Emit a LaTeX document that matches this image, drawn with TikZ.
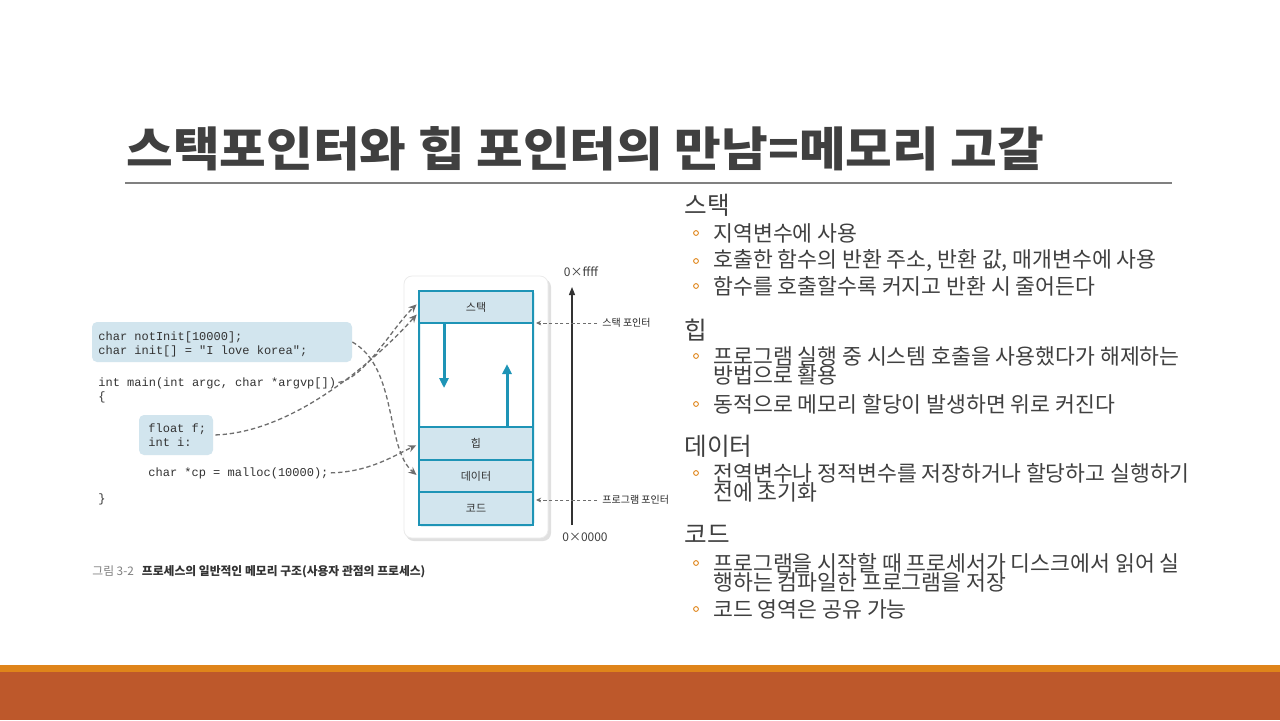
\documentclass[tikz,border=0pt]{standalone}
\usepackage{fontspec}
\setmainfont{Noto Sans CJK KR}
\newfontfamily\codefont{Liberation Mono}
\usetikzlibrary{arrows.meta}
\definecolor{txt}{RGB}{64,64,64}
\definecolor{memfill}{RGB}{210,229,238}
\definecolor{memline}{RGB}{30,148,182}
\definecolor{dashc}{RGB}{110,110,110}
\definecolor{bulletc}{RGB}{224,134,26}
\definecolor{bandA}{RGB}{223,132,26}
\definecolor{bandB}{RGB}{189,88,43}
\definecolor{rulec}{RGB}{128,128,128}
\begin{document}
\begin{tikzpicture}[x=0.5pt,y=-0.5pt,
  titlestyle/.style={anchor=west,inner sep=0,font=\fontsize{23.5}{27}\selectfont\bfseries,text=txt},
  headstyle/.style={anchor=west,inner sep=0,font=\fontsize{12.3}{14}\selectfont,text=txt},
  bodystyle/.style={anchor=west,inner sep=0,font=\fontsize{10.8}{12}\selectfont,text=txt},
  bulletdot/.style={circle,draw=bulletc,line width=0.45pt,minimum size=2.4pt,inner sep=0},
  codeline/.style={anchor=base west,inner sep=0,font=\codefont\fontsize{6}{7}\selectfont,text=black!80},
  codebox/.style={fill=memfill,rounded corners=2.5pt,inner sep=0},
  segbox/.style={draw=memline,fill=memfill,line width=1pt,minimum width=57pt,inner sep=0,font=\fontsize{5.5}{6}\selectfont,text=black!80},
  growarrow/.style={draw=memline,line width=1.5pt,-{Triangle[width=4.5pt,length=5pt]}},
  linkarrow/.style={draw=dashc,line width=0.65pt,dash pattern=on 2.2pt off 1.4pt,-{Stealth[length=4pt,width=3.6pt]}},
  ptrarrow/.style={draw=dashc,line width=0.45pt,dash pattern=on 1.6pt off 1.2pt,-{Stealth[length=2.6pt,width=2.4pt]}},
  smalllabel/.style={anchor=west,inner sep=0,font=\fontsize{5}{6}\selectfont,text=black!85},
  axislabel/.style={inner sep=0,font=\fontsize{6}{7}\selectfont,text=black!75}
]
\useasboundingbox (0,0) rectangle (1280,720);
\fill[white] (0,0) rectangle (1280,720);

% title
\node[titlestyle] (title) at (126,149) {\scalebox{1.08}[1]{스택포인터와 힙 포인터의 만남=메모리 고갈}};
\draw[rulec,line width=0.6pt] (125,183) -- (1172,183);

% bottom bands
\fill[bandA] (0,665) rectangle (1280,672);
\fill[bandB] (0,672) rectangle (1280,720);

% right column
\node[headstyle] (h1) at (684,205) {스택};
\node[bulletdot] (b11) at (696,233) {};
\node[bodystyle] (t11) at (713,233) {지역변수에 사용};
\node[bulletdot] (b12) at (696,261) {};
\node[bodystyle] (t12) at (713,261) {호출한 함수의 반환 주소, 반환 값, 매개변수에 사용};
\node[bulletdot] (b13) at (696,286) {};
\node[bodystyle] (t13) at (713,286) {함수를 호출할수록 커지고 반환 시 줄어든다};

\node[headstyle] (h2) at (684,330) {힙};
\node[bulletdot] (b21) at (696,356) {};
\node[bodystyle] (t21) at (713,356) {프로그램 실행 중 시스템 호출을 사용했다가 해제하는};
\node[bodystyle] (t21b) at (713,375) {방법으로 활용};
\node[bulletdot] (b22) at (696,404) {};
\node[bodystyle] (t22) at (713,404) {동적으로 메모리 할당이 발생하면 위로 커진다};

\node[headstyle] (h3) at (684,446) {데이터};
\node[bulletdot] (b31) at (696,473) {};
\node[bodystyle] (t31) at (713,473) {전역변수나 정적변수를 저장하거나 할당하고 실행하기};
\node[bodystyle] (t31b) at (713,492) {전에 초기화};

\node[headstyle] (h4) at (684,534) {코드};
\node[bulletdot] (b41) at (696,563) {};
\node[bodystyle] (t41) at (713,563) {프로그램을 시작할 때 프로세서가 디스크에서 읽어 실};
\node[bodystyle] (t41b) at (713,582) {행하는 컴파일한 프로그램을 저장};
\node[bulletdot] (b42) at (696,609) {};
\node[bodystyle] (t42) at (713,609) {코드 영역은 공유 가능};

% code listing
\node[codebox,minimum width=130pt,minimum height=20pt] (glob) at (222,342) {};
\node[codeline] (c1) at (98,340) {char notInit[10000];};
\node[codeline] (c2) at (98,354) {char init[] = "I love korea";};
\node[codeline] (mainl) at (98,386) {int main(int argc, char *argvp[])};
\node[codeline] (ob) at (98,400) {\{};
\node[codebox,minimum width=37pt,minimum height=20pt] (loc) at (176,435) {};
\node[codeline] (c3) at (148,432) {float f;};
\node[codeline] (c4) at (148,446) {int i:};
\node[codeline] (mall) at (148,476) {char *cp = malloc(10000);};
\node[codeline] (cb) at (98,502) {\}};

% memory box
\fill[black!12,rounded corners=4pt] (406,279) rectangle (551,541);
\filldraw[fill=white,draw=black!8,line width=0.4pt,rounded corners=4pt] (404,276) rectangle (548,538);
\draw[memline,line width=1pt,fill=white,rounded corners=1pt] (419,291) rectangle (533,525);
\node[segbox,minimum height=16pt] (stack) at (476,307) {스택};
\node[segbox,minimum height=16.5pt] (heap) at (476,443.5) {힙};
\node[segbox,minimum height=16pt] (data) at (476,476.25) {데이터};
\node[segbox,minimum height=16.5pt] (codeseg) at (476,508.75) {코드};
\draw[growarrow] ([xshift=-16pt]stack.south) -- ++(0,64);
\draw[growarrow] ([xshift=15.5pt]heap.north) -- ++(0,-62);

% address axis
\node[axislabel] (hi) at (581,272) {0×ffff};
\node[axislabel] (lo) at (585,537) {0×0000};
\coordinate (axb) at (572,525);
\coordinate (axt) at (572,287);
\draw[black!80,line width=0.6pt,-{Triangle[width=3pt,length=4pt]}] (axb) -- (axt);

% pointers
\node[smalllabel] (spl) at (602,323) {스택 포인터};
\node[smalllabel] (ppl) at (602,500) {프로그램 포인터};
\draw[ptrarrow,shorten <=2.5pt] (spl.west) -- ([xshift=1pt]spl.west -| stack.east);
\draw[ptrarrow,shorten <=2.5pt] (ppl.west) -- ([xshift=1pt]ppl.west -| codeseg.east);

% links from code to memory
\draw[linkarrow,shorten <=1pt,shorten >=1pt] (mainl.east) .. controls (365,378) and (392,328) .. ([yshift=2pt]stack.west);
\draw[linkarrow,shorten <=1pt,shorten >=1pt] (loc.east) .. controls (300,432) and (385,350) .. ([yshift=-3pt]stack.west);
\draw[linkarrow,shorten >=1pt] (glob.east) .. controls (398,368) and (385,448) .. (data.west);
\draw[linkarrow,shorten <=1pt,shorten >=1pt] (mall.east) .. controls (370,472) and (395,455) .. ([yshift=-0.5pt]heap.west);

% caption
\node[anchor=west,inner sep=0,font=\fontsize{5.9}{7}\selectfont] (cap) at (92,572) {\textcolor{black!50}{그림 3-2}\hspace{4pt}\textcolor{black!80}{\bfseries 프로세스의 일반적인 메모리 구조(사용자 관점의 프로세스)}};
\end{tikzpicture}
\end{document}
